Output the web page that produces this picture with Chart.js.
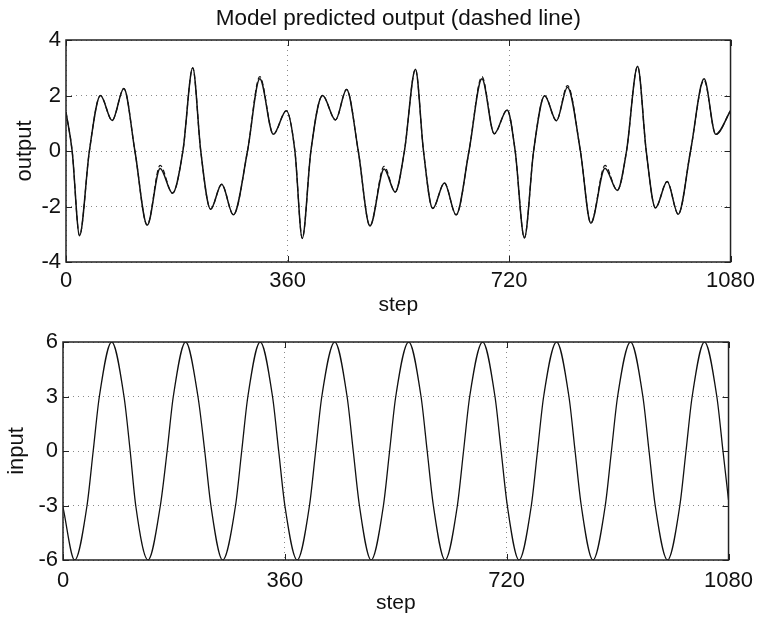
<!DOCTYPE html>
<html>
<head>
<meta charset="utf-8">
<title>Model predicted output</title>
<script src="https://cdn.jsdelivr.net/npm/chart.js@4.4.1/dist/chart.umd.min.js"></script>
<style>
  body { margin: 0; background: #fff; }
  #wrap { position: relative; width: 761px; height: 618px; }
  canvas { position: absolute; left: 0; }
  #outChart { top: 0; }
  #inChart { top: 318px; }
</style>
</head>
<body>
<div id="wrap">
  <canvas id="outChart" width="761" height="318"></canvas>
  <canvas id="inChart" width="761" height="300"></canvas>
</div>
<script>
// values
var outSteps = [0, 10, 22, 38, 56, 75, 94, 112, 132, 153, 173, 190, 206, 219, 235, 253, 272, 295, 315, 337,
  358, 372, 384, 398, 417, 438, 456, 475, 494, 517, 535, 550, 568, 581, 596, 615, 634, 655, 676, 696,
  717, 730, 745, 760, 778, 797, 815, 836, 853, 876, 896, 911, 929, 943, 958, 977, 995, 1015, 1037, 1056, 1080];
var outValues = [1.4, 0, -3.05, 0, 2.0, 1.1, 2.25, 0, -2.67, -0.63, -1.52, 0, 3.0, 0, -2.1, -1.2, -2.3, 0, 2.6, 0.6,
  1.45, 0, -3.15, 0, 2.0, 1.12, 2.22, 0, -2.7, -0.65, -1.48, 0, 2.95, 0, -2.07, -1.15, -2.3, 0, 2.6, 0.62,
  1.48, 0, -3.13, 0, 1.99, 1.09, 2.3, 0, -2.6, -0.62, -1.42, 0, 3.05, 0, -2.05, -1.1, -2.28, 0, 2.6, 0.6, 1.45];
var predValues = [1.4, 0, -3.05, 0, 2.0, 1.1, 2.25, 0, -2.67, -0.52, -1.52, 0, 3.0, 0, -2.1, -1.2, -2.3, 0, 2.68, 0.6,
  1.45, 0, -3.15, 0, 2.0, 1.12, 2.22, 0, -2.7, -0.55, -1.48, 0, 2.95, 0, -2.07, -1.15, -2.3, 0, 2.68, 0.62,
  1.48, 0, -3.13, 0, 1.99, 1.09, 2.36, 0, -2.6, -0.52, -1.42, 0, 3.05, 0, -2.05, -1.1, -2.28, 0, 2.55, 0.6, 1.45];

var inSteps = [0,
  19, 39, 49, 59, 79, 99, 109, 118,
  138, 158, 169, 179, 199, 219, 230, 240,
  259, 280, 290, 300, 320, 340, 350, 360,
  380, 400, 410, 420, 441, 461, 471, 481,
  500, 520, 530, 540, 561, 581, 591, 601,
  620, 640, 650, 660, 681, 701, 711, 721,
  740, 760, 770, 780, 801, 821, 831, 841,
  860, 880, 890, 900, 921, 941, 951, 961,
  981, 1001, 1011, 1021, 1041, 1061, 1071, 1080];
var inValues = [-3.1,
  -6, -3, 0, 3, 6, 3, 0, -3,
  -6, -3, 0, 3, 6, 3, 0, -3,
  -6, -3, 0, 3, 6, 3, 0, -3,
  -6, -3, 0, 3, 6, 3, 0, -3,
  -6, -3, 0, 3, 6, 3, 0, -3,
  -6, -3, 0, 3, 6, 3, 0, -3,
  -6, -3, 0, 3, 6, 3, 0, -3,
  -6, -3, 0, 3, 6, 3, 0, -3,
  -6, -3, 0, 3, 6, 3, 0, -2.7];

var stepTicks = [0, 360, 720, 1080];
var outTicks = [-4, -2, 0, 2, 4];
var inTicks = [-6, -3, 0, 3, 6];

var FONT = "'Liberation Sans', Arial, Helvetica, sans-serif";
var INK = "#111";

function pts(xs, ys) {
  return xs.map(function (x, i) { return { x: x, y: ys[i] }; });
}

function plain(v) { return String(v); }

// box round the plot plus the small inward tick marks matlab draws
var boxPlugin = {
  id: "box",
  afterDraw: function (chart) {
    var a = chart.chartArea, c = chart.ctx;
    var xs = chart.scales.x, ys = chart.scales.y;
    c.save();
    c.strokeStyle = "#222";
    c.lineWidth = 1;
    c.beginPath();
    xs.ticks.forEach(function (t) {
      var px = Math.round(xs.getPixelForValue(t.value)) + 0.5;
      c.moveTo(px, a.bottom); c.lineTo(px, a.bottom - 6);
      c.moveTo(px, a.top); c.lineTo(px, a.top + 6);
    });
    ys.ticks.forEach(function (t) {
      var py = Math.round(ys.getPixelForValue(t.value)) + 0.5;
      c.moveTo(a.left, py); c.lineTo(a.left + 6, py);
      c.moveTo(a.right, py); c.lineTo(a.right - 6, py);
    });
    c.stroke();
    c.lineWidth = 1.5;
    c.strokeRect(a.left, a.top, a.right - a.left, a.bottom - a.top);
    c.restore();
  }
};

function axisX(tickPad) {
  return {
    type: "linear", min: 0, max: 1080,
    afterBuildTicks: function (s) { s.ticks = stepTicks.map(function (v) { return { value: v }; }); },
    afterFit: function (s) { s.height = 56; },
    grid: { color: "#8a8a8a", lineWidth: 1, drawTicks: false },
    border: { display: false, dash: [1, 4] },
    ticks: { padding: tickPad, color: INK, font: { family: FONT, size: 22 }, maxRotation: 0, callback: plain },
    title: { display: true, text: "step", color: INK, font: { family: FONT, size: 21 }, padding: { top: 0, bottom: 0 } }
  };
}

function axisY(lo, hi, ticks, label, width, titlePad) {
  return {
    type: "linear", min: lo, max: hi,
    afterBuildTicks: function (s) { s.ticks = ticks.map(function (v) { return { value: v }; }); },
    afterFit: function (s) { s.width = width; },
    grid: { color: "#8a8a8a", lineWidth: 1, drawTicks: false },
    border: { display: false, dash: [1, 4] },
    ticks: { padding: 5, color: INK, font: { family: FONT, size: 22 }, callback: plain },
    title: { display: true, text: label, color: INK, font: { family: FONT, size: 22 }, padding: { top: titlePad, bottom: 0 } }
  };
}

var outChart = new Chart(document.getElementById("outChart"), {
  type: "line",
  data: {
    datasets: [
      {
        label: "output",
        data: pts(outSteps, outValues),
        borderColor: INK, borderWidth: 1.5,
        pointRadius: 0, fill: false, cubicInterpolationMode: "monotone"
      },
      {
        label: "predicted",
        data: pts(outSteps, predValues),
        borderColor: INK, borderWidth: 1.2, borderDash: [5, 3],
        pointRadius: 0, fill: false, cubicInterpolationMode: "monotone"
      }
    ]
  },
  options: {
    responsive: false, animation: false, devicePixelRatio: 1,
    layout: { padding: { left: 0, right: 26, top: 0, bottom: 0 } },
    plugins: {
      legend: { display: false },
      tooltip: { enabled: false },
      title: {
        display: true, fullSize: false,
        text: "Model predicted output (dashed line)",
        color: INK, font: { family: FONT, size: 22.5, weight: "normal" },
        padding: { top: 5, bottom: 8 }
      }
    },
    scales: { x: axisX(6), y: axisY(-4, 4, outTicks, "output", 66, 12) }
  },
  plugins: [boxPlugin]
});

var inChart = new Chart(document.getElementById("inChart"), {
  type: "line",
  data: {
    datasets: [
      {
        label: "input",
        data: pts(inSteps, inValues),
        borderColor: INK, borderWidth: 1.3,
        pointRadius: 0, fill: false, cubicInterpolationMode: "monotone"
      }
    ]
  },
  options: {
    responsive: false, animation: false, devicePixelRatio: 1,
    layout: { padding: { left: 0, right: 28, top: 24, bottom: 2 } },
    plugins: { legend: { display: false }, tooltip: { enabled: false } },
    scales: { x: axisX(8), y: axisY(-6, 6, inTicks, "input", 63, 4) }
  },
  plugins: [boxPlugin]
});
</script>
</body>
</html>
